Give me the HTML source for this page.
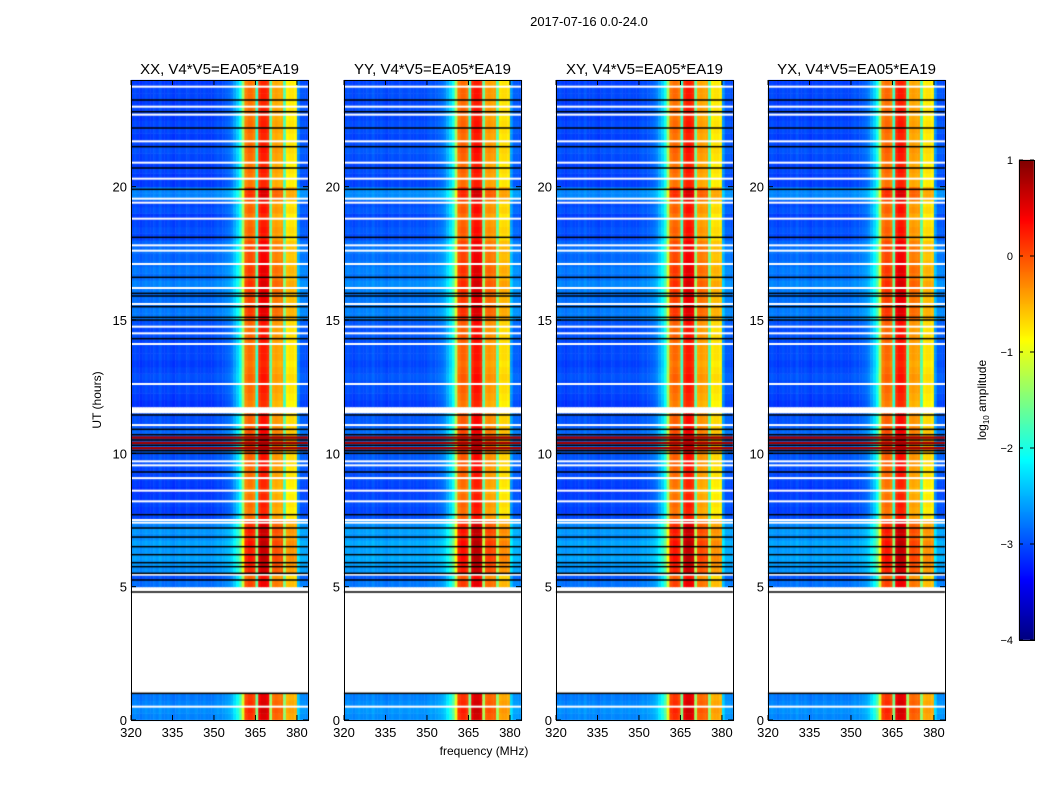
<!DOCTYPE html>
<html><head><meta charset="utf-8"><style>
html,body{margin:0;padding:0;background:#fff;}
#wrap{position:relative;width:1050px;height:800px;overflow:hidden;font-family:"Liberation Sans",sans-serif;}
canvas,svg{position:absolute;left:0;top:0;}
</style></head><body>
<div id="wrap">
<canvas id="cv" width="1050" height="800"></canvas>
<svg id="sv" width="1050" height="800"></svg>
</div>
<script>
// ---- data ----
const panelTitles = ["XX, V4*V5=EA05*EA19","YY, V4*V5=EA05*EA19","XY, V4*V5=EA05*EA19","YX, V4*V5=EA05*EA19"];
const panelOffsets = [0, 0.05, 0.02, 0.02];
const freqStart = 320, freqStep = 1; // MHz channels 320..383
const freqProfile = [
-3.1,-3.05,-3.1,-3.15,-3.1,-3.05,-3.1,-3.1,-3.05,-3.1,
-3.0,-3.1,-3.1,-3.05,-3.1,-3.15,-3.1,-3.05,-3.1,-3.1,
-3.05,-3.1,-3.1,-3.05,-3.1,-3.1,-3.05,-3.1,-3.1,-3.1,
-3.05,-3.0,-3.05,-3.0,-2.95,-2.9,-2.8,-2.6,-2.4,-2.1,
-1.4,-0.3,-0.2,-0.2,-0.3,-1.9,0.1,0.2,0.2,0.1,
-1.7,-0.5,-0.45,-0.5,-0.5,-1.8,-0.85,-0.8,-0.8,-0.85,
-2.7,-3.0,-3.0,-3.05];
const timeStep = 0.25; // hours per row, rows 0..95
const rowOffsets = [
0.35,0.4,0.35,0.3, null,null,null,null, null,null,null,null, null,null,null,null, null,null,null,null,
0.25,0.1,0.4,0.45, 0.5,0.45,0.5,0.4, 0.45,0.35,0.05,0.0, 0.05,0.0,-0.05,0.0, 0.05,0.05,0.1,0.1,
0.2,0.25,0.2,0.2, 0.1,0.1,null,-0.05, 0.0,0.05,0.05,0.1, 0.05,0.0,0.05,0.05, 0.05,0.1,0.05,0.1,
0.3,0.3,0.25,0.25, 0.3,0.35,0.25,0.3, 0.25,0.2,0.25,0.2, 0.05,0.1,0.05,0.0, 0.1,0.05,0.35,0.35,
0.0,0.0,0.05,0.0, 0.05,0.1,0.05,0.0, 0.05,0.05,0.0,0.05, 0.0,0.05,0.05,0.0];
const blackLines = [23.25,22.81,22.2,21.5,20.7,19.9,18.1,16.6,16.0,15.9,15.5,15.1,15.0,14.3,11.44,10.9,10.7,10.5,10.3,10.1,10.0,9.3,7.7,7.2,6.86,6.5,6.2,5.9,5.75,5.5,5.25,4.8,1.0];
const whiteLines = [23.75,23.0,22.7,21.7,20.9,20.3,19.55,19.4,18.8,17.8,17.6,17.1,16.2,15.6,14.75,14.5,14.1,12.6,11.06,9.7,9.55,9.07,8.6,8.2,7.5,7.4,5.45,0.5];
const hotLines = [10.4,10.2,10.6];
const xTicks = [320,335,350,365,380];
const yTicks = [0,5,10,15,20];
const cbTicks = [1,0,-1,-2,-3,-4];

// ---- geometry ----
const px0 = [131,344,556,768], pw = 177, pyTop = 80, pyBot = 720;
const xMin = 320, xMax = 384, tMax = 24, vMin = -4, vMax = 1;
const xs = (f,i)=> px0[i] + (f-xMin)/(xMax-xMin)*pw;
const ys = h => pyBot - h/tMax*(pyBot-pyTop);

function jet(v){
  let t = Math.max(0,Math.min(1,(v-vMin)/(vMax-vMin)));
  const c = x=>Math.round(255*Math.max(0,Math.min(1,x)));
  return `rgb(${c(1.5-Math.abs(4*t-3))},${c(1.5-Math.abs(4*t-2))},${c(1.5-Math.abs(4*t-1))})`;
}
const ctx = document.getElementById('cv').getContext('2d');
for(let p=0;p<4;p++){
  for(let r=0;r<rowOffsets.length;r++){
    const off = rowOffsets[r];
    if(off===null) continue;
    const y1 = ys((r+1)*timeStep), y0 = ys(r*timeStep);
    for(let c=0;c<freqProfile.length;c++){
      const f = freqStart + c*freqStep;
      const x0 = xs(f,p), x1 = xs(f+freqStep,p);
      ctx.fillStyle = jet(freqProfile[c]+off+panelOffsets[p]);
      ctx.fillRect(x0,y1,x1-x0+0.5,y0-y1+0.5);
    }
  }
  ctx.fillStyle = '#a00000';
  hotLines.forEach(h=>ctx.fillRect(px0[p],ys(h)-1,pw,2.5));
  ctx.fillStyle = '#fff';
  whiteLines.forEach(h=>ctx.fillRect(px0[p],ys(h)-1,pw,2));
  ctx.fillStyle = '#000';
  blackLines.forEach(h=>ctx.fillRect(px0[p],ys(h)-0.75,pw,1.5));
}
// colorbar
const cbX = 1019, cbW = 15, cbT = 160, cbB = 640;
for(let y=cbT;y<cbB;y++){
  ctx.fillStyle = jet(vMax - (y-cbT+0.5)/(cbB-cbT)*(vMax-vMin));
  ctx.fillRect(cbX,y,cbW,1);
}

// ---- svg axes ----
const sv = document.getElementById('sv');
const NS = 'http://www.w3.org/2000/svg';
function mk(tag, attrs, text){
  const e = document.createElementNS(NS,tag);
  for(const k in attrs) e.setAttribute(k,attrs[k]);
  if(text!==undefined) e.textContent = text;
  sv.appendChild(e); return e;
}
let e;
e = mk('text',{x:589,y:26,'font-size':13,'text-anchor':'middle',fill:'#000'},'2017-07-16 0.0-24.0');


for(let p=0;p<4;p++){
  e = mk('rect',{x:px0[p]+0.5,y:pyTop+0.5,width:pw,height:pyBot-pyTop,fill:'none',stroke:'#000','stroke-width':1});
  
  
  e = mk('text',{x:px0[p]+pw/2,y:74,'font-size':15,'text-anchor':'middle',fill:'#000'},panelTitles[p]);
  
  
  xTicks.forEach(t=>{
    const x = xs(t,p);
    mk('line',{x1:x,x2:x,y1:pyBot,y2:pyBot-5,stroke:'#000'});
    mk('line',{x1:x,x2:x,y1:pyTop,y2:pyTop+5,stroke:'#000'});
    e = mk('text',{x:x,y:737,'font-size':13,'text-anchor':'middle',fill:'#000'},String(t));
    
    
  });
  yTicks.forEach(t=>{
    const y = ys(t);
    mk('line',{x1:px0[p],x2:px0[p]+5,y1:y,y2:y,stroke:'#000'});
    mk('line',{x1:px0[p]+pw,x2:px0[p]+pw-5,y1:y,y2:y,stroke:'#000'});
    e = mk('text',{x:px0[p]-4,y:y+5,'font-size':13,'text-anchor':'end',fill:'#000'},String(t));
    
    
  });
}
e = mk('text',{x:484,y:755,'font-size':12,'text-anchor':'middle',fill:'#000'},'frequency (MHz)');


e = mk('text',{x:101,y:400,'font-size':12,'text-anchor':'middle',fill:'#000',transform:'rotate(-90 101 400)'},'UT (hours)');


e = mk('rect',{x:cbX+0.5,y:cbT+0.5,width:cbW,height:cbB-cbT,fill:'none',stroke:'#000'});


cbTicks.forEach(t=>{
  const y = cbT + (vMax-t)/(vMax-vMin)*(cbB-cbT);
  mk('line',{x1:cbX,x2:cbX+4,y1:y,y2:y,stroke:'#000'});
  mk('line',{x1:cbX+cbW,x2:cbX+cbW-4,y1:y,y2:y,stroke:'#000'});
  e = mk('text',{x:1013,y:y+4,'font-size':11,'text-anchor':'end',fill:'#000'},t<0?'\u2212'+(-t):String(t));
  
  
});
e = mk('text',{x:986,y:400,'font-size':12,'text-anchor':'middle',fill:'#000',transform:'rotate(-90 986 400)'});


e.innerHTML = 'log<tspan font-size="8" dy="3">10</tspan><tspan dy="-3"> amplitude</tspan>';
</script>
</body></html>
